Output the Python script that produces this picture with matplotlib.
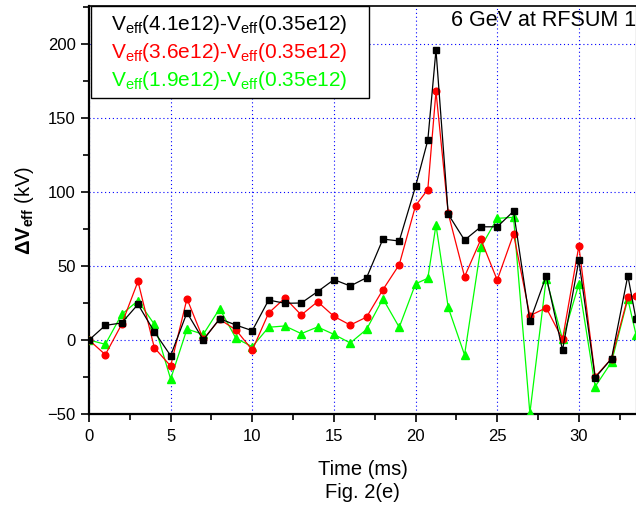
import matplotlib
matplotlib.use("Agg")
import matplotlib.pyplot as plt
from matplotlib.patches import Rectangle
from matplotlib.ticker import MultipleLocator

plt.rcParams['font.family'] = ['Liberation Sans', 'DejaVu Sans']
plt.rcParams['mathtext.fontset'] = 'custom'
plt.rcParams['mathtext.rm'] = 'Liberation Sans'
plt.rcParams['mathtext.it'] = 'Liberation Sans'
plt.rcParams['mathtext.bf'] = 'Liberation Sans:bold'

time_ms = [0, 1, 2, 3, 4, 5, 6, 7, 8, 9, 10, 11, 12, 13, 14, 15, 16, 17, 18, 19, 20,
           20.75, 21.25, 22, 23, 24, 25, 26, 27, 28, 29, 30, 31, 32, 33, 33.5]
dv_41 = [0, 9.9, 11.5, 24.1, 5.6, -10.6, 18.5, 0, 14.4, 10.1, 6.3, 27, 24.8, 25, 32.7,
         40.8, 36.5, 42.1, 68.2, 66.9, 103.8, 135, 196, 85, 67.5, 76.5, 76.5, 87,
         12.6, 43.2, -6.8, 53.8, -25.5, -12.6, 43.5, 14]
dv_36 = [0, -9.9, 10.6, 39.6, -5.2, -17.6, 27.9, 0.5, 14, 6.8, -6.8, 18.2, 28.4, 16.9,
         25.9, 16, 10.1, 15.5, 34, 50.9, 90.8, 101.7, 168, 85.6, 42.8, 68, 40.5, 71.6,
         16.4, 21.8, 0.5, 63.5, -24.8, -12.6, 28.8, 30]
dv_19 = [0, -2.9, 17.3, 26.6, 10.6, -26.4, 7.4, 3.8, 21.2, 1.1, -4.5, 8.6, 9.5, 4.3,
         8.8, 3.8, -2, 7.2, 27.9, 8.6, 38, 41.7, 77.7, 22, -10.1, 62.8, 82.2, 82.9,
         -49.5, 41.4, 0.5, 37.8, -31.5, -14.9, 27.7, 3.6]

legend_labels = [r'V$_{\rm eff}$(4.1e12)-V$_{\rm eff}$(0.35e12)',
                 r'V$_{\rm eff}$(3.6e12)-V$_{\rm eff}$(0.35e12)',
                 r'V$_{\rm eff}$(1.9e12)-V$_{\rm eff}$(0.35e12)']
colors = ['#000000', '#ff0000', '#00ff00']

W, H = 636, 508
fig = plt.figure(figsize=(W / 100, H / 100), dpi=100)
ax = fig.add_axes([89 / W, 94 / H, 1 - 89 / W, (414 - 6) / H])

ax.plot(time_ms, dv_41, color=colors[0], lw=0.9, marker='s', ms=4.5, zorder=5)
ax.plot(time_ms, dv_36, color=colors[1], lw=0.9, marker='o', ms=4.8, zorder=4)
ax.plot(time_ms, dv_19, color=colors[2], lw=0.9, marker='^', ms=5.5, zorder=3)

ax.set_xlim(0, 33.5)
ax.set_ylim(-50, 225.7)
ax.xaxis.set_major_locator(MultipleLocator(5))
ax.xaxis.set_minor_locator(MultipleLocator(2.5))
ax.yaxis.set_major_locator(MultipleLocator(50))
ax.yaxis.set_minor_locator(MultipleLocator(25))
ax.grid(True, which='major', color='#0000ff', linestyle=(0, (1, 2.5)), linewidth=0.8)
ax.set_axisbelow(True)
ax.tick_params(which='major', direction='out', length=6, width=1.2, labelsize=12)
ax.tick_params(axis='x', which='major', pad=5)
ax.tick_params(which='minor', direction='out', length=4, width=1.2)
for s in ['left', 'bottom']:
    ax.spines[s].set_linewidth(1.6)
ax.spines['top'].set_linewidth(1.2)

ax.set_xlabel('Time (ms)\nFig. 2(e)', fontsize=14.5, linespacing=1.3, labelpad=11)
ax.set_ylabel(r'$\mathbf{\Delta V_{eff}}$ (kV)', fontsize=14.5, labelpad=8)

ax.text(22.2, 216, '6 GeV at RFSUM 1', fontsize=15.5, ha='left', va='center')

# legend box (text only, coloured)
def px2ax(x, y):
    return (x - 89) / (W - 89), (414 - y) / (414 - 6)

x0, y1 = px2ax(91, 6)
x1, y0 = px2ax(369, 98)
ax.add_patch(Rectangle((x0, y0), x1 - x0, y1 - y0, transform=ax.transAxes,
                       facecolor='white', edgecolor='black', lw=1.0, zorder=10,
                       clip_on=False))
for i, (lab, c) in enumerate(zip(legend_labels, colors)):
    tx, ty = px2ax(229, 24 + 28 * i)
    ax.text(tx, ty, lab, color=c, fontsize=15, ha='center', va='center',
            transform=ax.transAxes, zorder=11)

fig.savefig('out.png', dpi=100)
